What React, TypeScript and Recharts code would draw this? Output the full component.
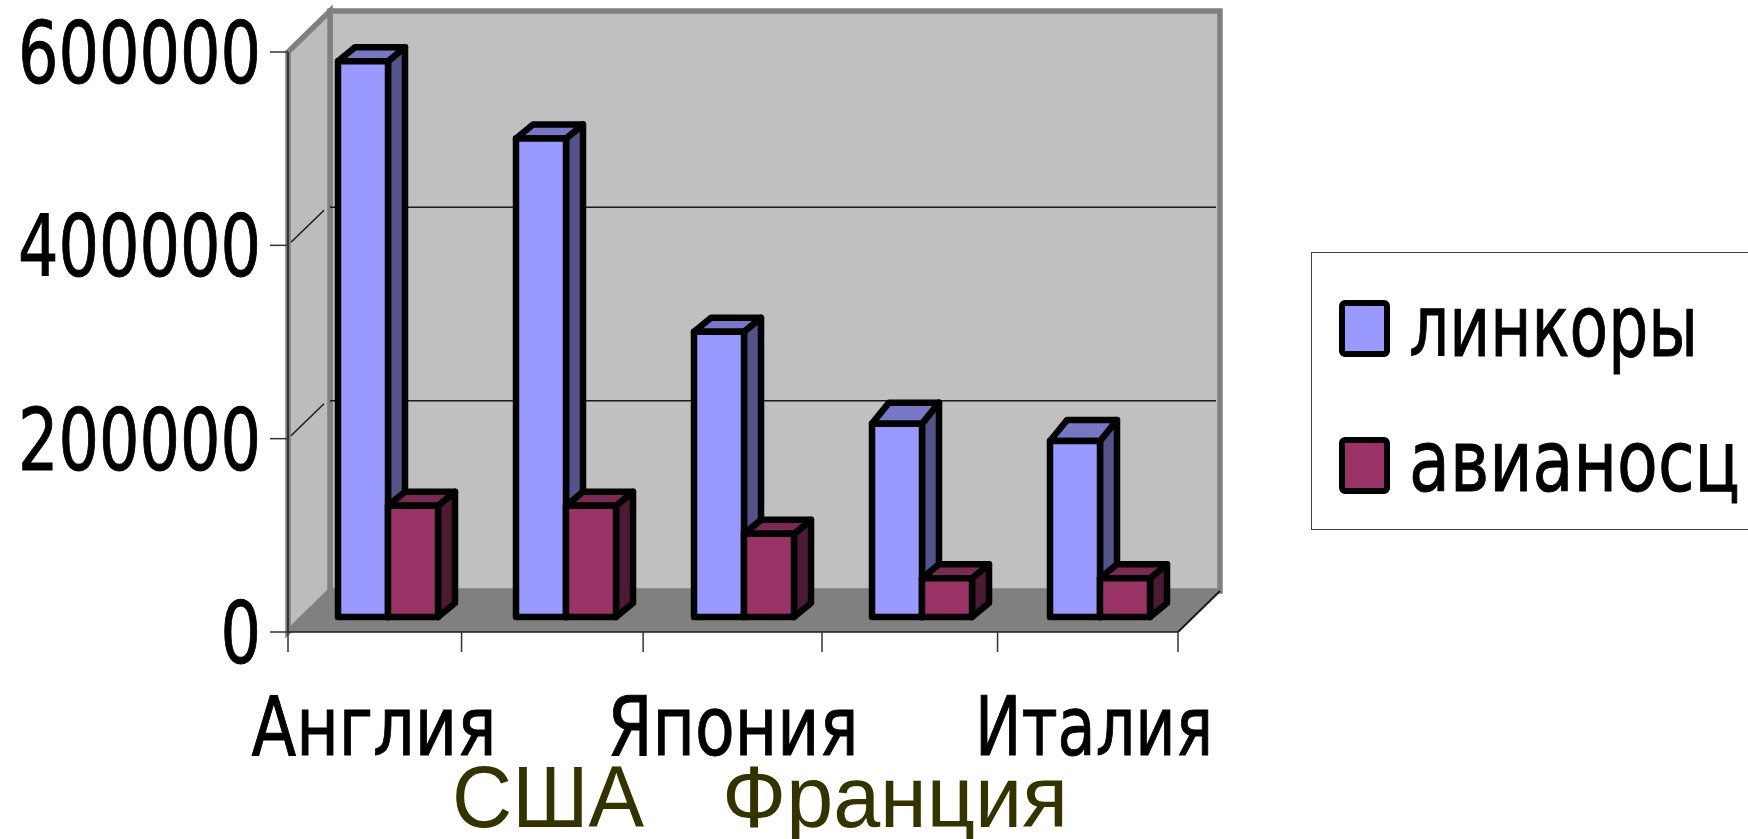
import { BarChart, Bar, XAxis, YAxis, CartesianGrid, Legend } from "recharts";

// Tonnage by country
const countries = ["Англия", "США", "Япония", "Франция", "Италия"];
const battleships = [575000, 495000, 295000, 200000, 182000];
const carriers = [115000, 115000, 86000, 40000, 40000];
const yTicks = [0, 200000, 400000, 600000];
// boundaries between the categories, on the 0..4 scale of the tick-only axis
const categoryEdges = [0, 0.78, 1.596, 2.4, 3.189, 4];

const chartData = countries.map((name, i) => ({
  name,
  battleships: battleships[i],
  carriers: carriers[i],
}));

const WIDTH = 1748;
const HEIGHT = 839;
const PLOT = { left: 288, right: 1178, top: 52, bottom: 632 };
const WALL = { dx: 42, dy: -41 };
const ARIAL = '"Liberation Sans", Arial, sans-serif';
const TAHOMA = '"DejaVu Sans", Verdana, sans-serif';

// label layout: staggered rows, squeezed to the width they have in the picture
const labelNudge = [-3, -7, 0, -16, 5];
const labelWidth = [245, 192, 251, 346, 238];

// how far the bars are pushed back into the floor
const BAR_SHIFT = { x: 11, y: -15 };
const blueDepthY = [14, 14, 14, 21, 21];
const redDepthY = [14, 14, 14, 14, 14];

function CategoryTick({ x, index, payload }: any) {
  const lower = index % 2 === 1;
  return (
    <text
      x={x + labelNudge[index]}
      y={lower ? 827 : 755}
      textAnchor="middle"
      fontFamily={lower ? ARIAL : TAHOMA}
      fontSize={lower ? 88 : 82}
      fill={lower ? "#333300" : "#000000"}
      stroke={lower ? "none" : "#000000"}
      strokeWidth={1}
      textLength={labelWidth[index]}
      lengthAdjust="spacingAndGlyphs"
    >
      {payload.value}
    </text>
  );
}

function ValueTick({ x, y, payload }: any) {
  const label = String(payload.value);
  return (
    <text
      x={x - 9}
      y={y + 31}
      textAnchor="end"
      fontFamily={TAHOMA}
      fontSize={86}
      fill="#000000"
      stroke="#000000"
      strokeWidth={1}
      textLength={label.length * 40.5}
      lengthAdjust="spacingAndGlyphs"
    >
      {label}
    </text>
  );
}

function makeBox(front: string, side: string, top: string, depths: number[]) {
  return function Box({ x, y, width, height, index }: any) {
    const fx = x + BAR_SHIFT.x;
    const fy = y + BAR_SHIFT.y;
    const dx = 17;
    const dy = -depths[index];
    const line = { stroke: "#000000", strokeWidth: 6.5, strokeLinejoin: "round" as const };
    return (
      <g>
        <polygon
          points={`${fx + width},${fy} ${fx + width + dx},${fy + dy} ${fx + width + dx},${fy + height + dy} ${fx + width},${fy + height}`}
          fill={side}
          {...line}
        />
        <polygon
          points={`${fx},${fy} ${fx + dx},${fy + dy} ${fx + width + dx},${fy + dy} ${fx + width},${fy}`}
          fill={top}
          {...line}
        />
        <rect x={fx} y={fy} width={width} height={height} fill={front} {...line} />
      </g>
    );
  };
}

// only the two inner gridlines are visible, they bend round the left wall
function WallGridLine({ x1, x2, y1, index }: any) {
  if (y1 <= PLOT.top + 1 || y1 >= PLOT.bottom - 1) return <g key={index} />;
  const backY = y1 + WALL.dy + 3;
  return (
    <g key={index} stroke="#1a1a1a" strokeWidth={1.5} fill="none">
      <line x1={x1 + 3} y1={y1 - 3} x2={x1 + 36} y2={backY + 3} />
      <line x1={x1 + WALL.dx} y1={backY} x2={x2 + WALL.dx - 4} y2={backY} />
    </g>
  );
}

function LegendBox({ payload }: any) {
  const entries = payload ?? [];
  const rows = [
    { box: 47, base: 103, width: 289 },
    { box: 184, base: 238, width: 331 },
  ];
  return (
    <svg width={437} height={278} style={{ display: "block" }}>
      {entries.map((entry: any, i: number) => (
        <g key={entry.value}>
          <rect
            x={30}
            y={rows[i].box + 3}
            width={45}
            height={51}
            rx={3}
            fill={entry.color}
            stroke="#000000"
            strokeWidth={6}
          />
          <text
            x={97}
            y={rows[i].base}
            fontFamily={TAHOMA}
            fontSize={86}
            fill="#000000"
            stroke="#000000"
            strokeWidth={1}
            textLength={rows[i].width}
            lengthAdjust="spacingAndGlyphs"
          >
            {entry.value}
          </text>
        </g>
      ))}
    </svg>
  );
}

export default function App() {
  const { left, right, top, bottom } = PLOT;
  return (
    <div style={{ position: "absolute", left: 0, top: 0, width: WIDTH, height: HEIGHT, overflow: "hidden", background: "#ffffff" }}>
      <BarChart
        width={WIDTH}
        height={HEIGHT}
        data={chartData}
        margin={{ top, right: WIDTH - right, left: 0, bottom: 0 }}
        barGap={0}
        barSize={50}
      >
        {/* back wall, left wall and floor */}
        <rect
          x={left + WALL.dx}
          y={top + WALL.dy}
          width={right - left}
          height={bottom - top}
          fill="#c0c0c0"
          stroke="#808080"
          strokeWidth={5.5}
        />
        <polygon
          points={`${left},${top} ${left + WALL.dx},${top + WALL.dy} ${left + WALL.dx},${bottom + WALL.dy} ${left},${bottom}`}
          fill="#bcbcbc"
          stroke="#808080"
          strokeWidth={5.5}
        />
        <polygon
          points={`${left},${bottom} ${left + WALL.dx},${bottom + WALL.dy} ${right + WALL.dx},${bottom + WALL.dy} ${right},${bottom}`}
          fill="#808080"
        />
        <line x1={right} y1={bottom} x2={right + WALL.dx} y2={bottom + WALL.dy} stroke="#1a1a1a" strokeWidth={2} />

        <CartesianGrid xAxisId="cat" vertical={false} horizontal={WallGridLine} zIndex={1} />
        <XAxis
          xAxisId="a-edges"
          type="number"
          domain={[0, 4]}
          ticks={categoryEdges}
          height={1}
          tick={() => <g />}
          tickSize={20}
          interval={0}
          tickLine={{ stroke: "#333333", strokeWidth: 1.5 }}
          axisLine={{ stroke: "#1a1a1a", strokeWidth: 1.5 }}
        />
        <XAxis
          xAxisId="cat"
          dataKey="name"
          height={206}
          axisLine={false}
          tickLine={false}
          interval={0}
          tick={CategoryTick}
        />
        <YAxis
          width={left}
          domain={[0, 600000]}
          ticks={yTicks}
          tickSize={18}
          tickMargin={0}
          interval={0}
          tick={ValueTick}
          tickLine={{ stroke: "#333333", strokeWidth: 1.5 }}
          axisLine={{ stroke: "#333333", strokeWidth: 2 }}
        />
        <Legend
          layout="horizontal"
          verticalAlign="middle"
          itemSorter={null}
          content={LegendBox}
          wrapperStyle={{
            left: 1311,
            top: 252,
            width: 445,
            height: 278,
            border: "1.5px solid #444444",
            background: "#ffffff",
            boxSizing: "border-box",
          }}
        />
        <Bar
          xAxisId="cat"
          dataKey="battleships"
          name="линкоры"
          fill="#9999ff"
          shape={makeBox("#9999ff", "#53538a", "#7777c4", blueDepthY)}
          isAnimationActive={false}
        />
        <Bar
          xAxisId="cat"
          dataKey="carriers"
          name="авианосц"
          fill="#993366"
          shape={makeBox("#993366", "#4d1a33", "#7a2952", redDepthY)}
          isAnimationActive={false}
        />
      </BarChart>
    </div>
  );
}
